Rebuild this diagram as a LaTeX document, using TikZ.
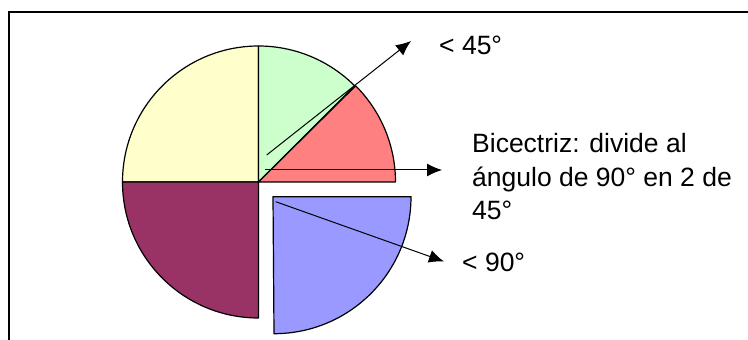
\documentclass[tikz,border=0pt]{standalone}
\usepackage{fontspec}
\setmainfont{Liberation Sans}
\usetikzlibrary{arrows.meta, calc}
\definecolor{pie_yellow}{RGB}{255, 255, 204}
\definecolor{pie_green}{RGB}{204, 255, 204}
\definecolor{pie_red}{RGB}{255, 128, 128}
\definecolor{pie_maroon}{RGB}{153, 51, 102}
\definecolor{pie_blue}{RGB}{153, 153, 255}

\begin{document}
\begin{tikzpicture}[
    x=1pt, y=1pt,
    every node/.style={font=\fontsize{26.5}{33.5}\selectfont, inner sep=0pt},
    slice/.style={draw=black, line width=1.2pt, line join=round},
    arr/.style={-{Latex[length=15pt, width=13pt]}, line width=1pt},
    lbl/.style={anchor=base west, align=left},
]
\useasboundingbox (0,0) rectangle (748,340);
\draw[line width=2pt] (9,0) -- (9,328) -- (748,328);

\coordinate (c) at (258.5,158);
\coordinate (cb) at (273,143.3);

\draw[slice, fill=pie_yellow] (c) -- ++(90:136pt) arc[start angle=90, end angle=180, radius=136pt] -- cycle;
\draw[slice, fill=pie_maroon] (c) -- ++(180:136pt) arc[start angle=180, end angle=270, radius=136pt] -- cycle;
\draw[slice, fill=pie_green] (c) -- ++(45:136pt) arc[start angle=45, end angle=90, radius=136pt] -- cycle;
\draw[slice, fill=pie_red] (c) -- ++(0:137pt) arc[start angle=0, end angle=45, radius=136pt] -- cycle;
\draw[slice, fill=pie_blue] (cb) -- ++(0:138pt) arc[start angle=0, end angle=-90, radius=137pt] -- cycle;

\node[lbl] (lt45)  at (439,285) {< 45°};
\node[lbl] (bisec) at (472,120) {Bicectriz: divide al\\ángulo de 90° en 2 de\\45°};
\node[lbl] (lt90)  at (462,68.5) {< 90°};

\coordinate (a45)  at (266.7,185);
\coordinate (e45)  at (411,299);
\coordinate (abis) at (265,170);
\coordinate (ebis) at (442,170);
\coordinate (a90)  at (275.7,138.3);
\coordinate (e90)  at (444,78.5);

\draw[arr] (a45) -- (e45);
\draw[arr] (abis) -- (ebis);
\draw[arr] (a90) -- (e90);
\end{tikzpicture}
\end{document}
